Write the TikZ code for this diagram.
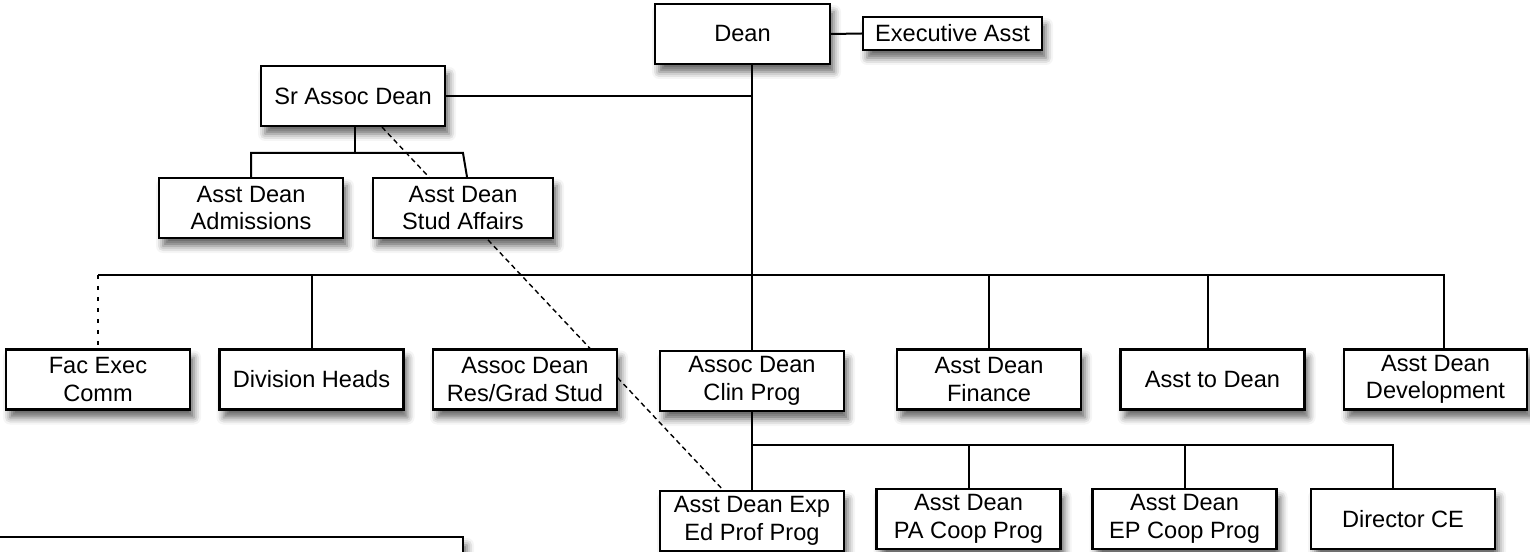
\documentclass[tikz,border=0pt]{standalone}
\usepackage{fontspec}
\setmainfont{Liberation Sans}
\usetikzlibrary{
    shadows.blur,
    backgrounds
}
\tikzset {
    org box/.style = {
        draw, line width = 1.1bp, fill = white, align = center,
        inner sep = 0pt, minimum width = 92bp, minimum height = 30bp,
        font = \fontsize{11.8bp}{13.7bp}\selectfont,
        blur shadow = {shadow xshift = 2bp, shadow yshift = -4bp,
            shadow blur radius = 3.5bp, shadow opacity = 60}
    },
    small box/.style = {org box, minimum width = 89.5bp, minimum height = 16.5bp},
    link/.style = {line width = 1bp},
    dotted link/.style = {link, dash pattern = on 2bp off 3.5bp},
    dashed link/.style = {line width = 0.7bp, dash pattern = on 2.5bp off 1.8bp}
}

\begin{document}
\begin{tikzpicture}[x = 0.5bp, y = -0.5bp]
    \useasboundingbox (0, 0) rectangle (1530, 552);
    % top
    \node (dean) [org box, minimum width = 87.5bp] at (742.5, 34) {Dean};
    \node (exec) [small box] at (952.5, 33.5) {Executive Asst};
    \node (srassoc) [org box] at (353, 96) {Sr Assoc Dean};
    \node (admis) [org box] at (251, 208) {Asst Dean\\Admissions};
    \node (studaff) [org box, minimum width = 90bp] at (463, 208) {Asst Dean\\Stud Affairs};
    % middle row
    \node (facexec) [org box] at (98, 379.5) {Fac Exec\\Comm};
    \node (divheads) [org box] at (311.5, 379.5) {Division Heads};
    \node (resgrad) [org box] at (525, 379.5) {Assoc Dean\\Res/Grad Stud};
    \node (clinprog) [org box] at (752, 381) {Assoc Dean\\Clin Prog};
    \node (finance) [org box] at (989, 379.5) {Asst Dean\\Finance};
    \node (asstto) [org box] at (1212.5, 379.5) {Asst to Dean};
    \node (develop) [org box, minimum width = 91.5bp] at (1435.5, 379.5) {Asst Dean\\Development};
    % bottom row
    \node (expedprof) [org box] at (752, 521) {Asst Dean Exp\\Ed Prof Prog};
    \node (pacoop) [org box] at (968.5, 519) {Asst Dean\\PA Coop Prog};
    \node (epcoop) [org box] at (1184.5, 519) {Asst Dean\\EP Coop Prog};
    \node (director) [org box] at (1403, 519) {Director CE};
    \draw [line width = 1.1bp, fill = white, blur shadow = {shadow xshift = 2bp,
        shadow yshift = -4bp, shadow blur radius = 3.5bp, shadow opacity = 60}]
        (-10, 537) rectangle (463, 640);

    \coordinate (sbar) at (355, 153);
    \coordinate (bar) at (752, 275);
    \coordinate (cbar) at (752, 445);
    \coordinate (asstto top) at ([xshift = -2.25bp] asstto.north);
    \coordinate (develop top) at ([xshift = 4.25bp] develop.north);
    \coordinate (director top) at ([xshift = -5bp] director.north);

    \draw [link] (dean.east) -- (exec.west);
    \draw [link] (dean.south -| clinprog.north) -- (clinprog.north);
    \draw [link] (srassoc.east) -- (srassoc.east -| clinprog.north);
    \draw [link] (srassoc.south -| sbar) -- (sbar);
    \draw [link] (admis.north) -- (admis.north |- sbar)
        -- (studaff.north |- sbar) -- ([xshift = 2bp] studaff.north);
    \draw [link] (facexec.north |- bar) -- (develop top |- bar) -- (develop top);
    \draw [dotted link] (facexec.north |- bar) -- (facexec.north);
    \draw [link] (divheads.north |- bar) -- (divheads.north);
    \draw [link] (finance.north |- bar) -- (finance.north);
    \draw [link] (asstto top |- bar) -- (asstto top);
    \draw [link] (clinprog.south) -- (expedprof.north);
    \draw [link] (cbar) -- (director top |- cbar) -- (director top);
    \draw [link] (pacoop.north |- cbar) -- (pacoop.north);
    \draw [link] (epcoop.north |- cbar) -- (epcoop.north);
    \begin{scope}[on background layer]
        \draw [dashed link] ([xshift = 14.5bp] srassoc.south)
            -- ([xshift = -14.5bp] expedprof.north);
    \end{scope}
\end{tikzpicture}
\end{document}
